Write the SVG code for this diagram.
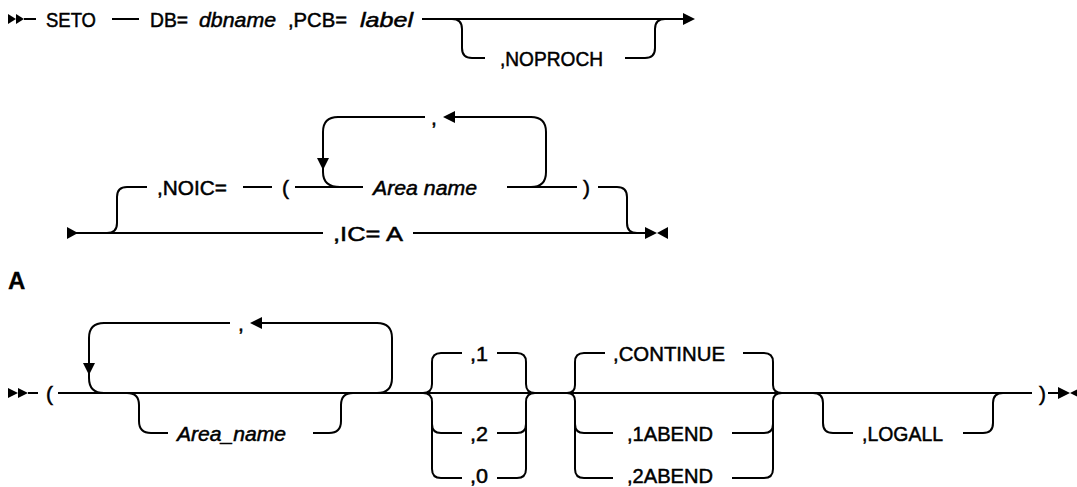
<svg xmlns="http://www.w3.org/2000/svg" width="1077" height="487" viewBox="0 0 1077 487">
<style>
.ln{fill:none;stroke:#000;stroke-width:2}
.ah{fill:#000;stroke:none}
text{font-family:"Liberation Sans",Arial,sans-serif;font-size:21px;fill:#000;stroke:#000;stroke-width:0.5}
.it{font-style:italic}
.bd{font-weight:bold;font-size:24px;stroke-width:0.3}
</style>
<rect width="1077" height="487" fill="#fff"/>
<g id="connectors">
<!-- row 1 -->
<polygon class="ah" points="8,14 16,19 8,24"/>
<polygon class="ah" points="16,14 24,19 16,24"/>
<path class="ln" d="M24,19 H36"/>
<path class="ln" d="M112,19 H139"/>
<path class="ln" d="M422,19 H685"/>
<polygon class="ah" points="683,13 695,19 683,25"/>
<path class="ln" d="M452,19 Q462,19 462,29 V48 Q462,58 472,58 H485"/>
<path class="ln" d="M625,58 H645 Q655,58 655,48 V29 Q655,19 665,19"/>
<!-- row 2 -->
<polygon class="ah" points="67,227 78,233 67,239"/>
<path class="ln" d="M76,233 H323"/>
<path class="ln" d="M413,233 H647"/>
<polygon class="ah" points="645,227 657,233 645,239"/>
<polygon class="ah" points="668,227 657,233 668,239"/>
<path class="ln" d="M107,233 Q117,233 117,223 V197 Q117,187 127,187 H147"/>
<path class="ln" d="M243,187 H272"/>
<path class="ln" d="M295,187 H363"/>
<path class="ln" d="M507,187 H577"/>
<path class="ln" d="M598,187 H617 Q627,187 627,197 V223 Q627,233 637,233"/>
<path class="ln" d="M340,187 Q323,187 323,172 V132 Q323,117 338,117 H425"/>
<path class="ln" d="M453,117 H531 Q546,117 546,132 V172 Q546,187 531,187"/>
<polygon class="ah" points="443,117 455,111 455,123"/>
<polygon class="ah" points="317,158 329,158 323,170"/>
<!-- row 3 -->
<polygon class="ah" points="8,388 18,393 8,398"/>
<polygon class="ah" points="18,388 28,393 18,398"/>
<path class="ln" d="M28,393 H38"/>
<path class="ln" d="M58,393 H1032"/>
<path class="ln" d="M1048,393 H1060"/>
<polygon class="ah" points="1058,387 1070,393 1058,399"/>
<polygon class="ah" points="1082,387 1070,393 1082,399"/>
<path class="ln" d="M104,393 Q89,393 89,378 V338 Q89,323 104,323 H230"/>
<path class="ln" d="M260,323 H377 Q392,323 392,338 V378 Q392,393 377,393"/>
<polygon class="ah" points="250,323 262,317 262,329"/>
<polygon class="ah" points="83,363 95,363 89,375"/>
<path class="ln" d="M127,393 Q139,393 139,405 V421 Q139,433 151,433 H168"/>
<path class="ln" d="M313,433 H329 Q341,433 341,421 V405 Q341,393 353,393"/>
<path class="ln" d="M423,393 Q432,393 432,384 V362 Q432,353 441,353 H462"/>
<path class="ln" d="M497,353 H517 Q526,353 526,362 V384 Q526,393 535,393"/>
<path class="ln" d="M423,393 Q432,393 432,402 V469 Q432,478 441,478 H462"/>
<path class="ln" d="M432,424 Q432,433 441,433 H462"/>
<path class="ln" d="M497,433 H517 Q526,433 526,424"/>
<path class="ln" d="M497,478 H517 Q526,478 526,469 V402 Q526,393 535,393"/>
<path class="ln" d="M567,393 Q575,393 575,385 V362 Q575,353 584,353 H605"/>
<path class="ln" d="M743,353 H764 Q773,353 773,362 V385 Q773,393 782,393"/>
<path class="ln" d="M567,393 Q575,393 575,401 V469 Q575,478 584,478 H613"/>
<path class="ln" d="M575,424 Q575,433 584,433 H613"/>
<path class="ln" d="M732,433 H764 Q773,433 773,424"/>
<path class="ln" d="M732,478 H764 Q773,478 773,469 V401 Q773,393 782,393"/>
<path class="ln" d="M813,393 Q823,393 823,403 V423 Q823,433 833,433 H853"/>
<path class="ln" d="M963,433 H983 Q993,433 993,423 V403 Q993,393 1003,393"/>
</g>
<g id="n-seto"><text x="46" y="26.5" textLength="50" lengthAdjust="spacingAndGlyphs">SETO</text></g>
<g id="n-db"><text x="150" y="26.5" textLength="38" lengthAdjust="spacingAndGlyphs">DB=</text></g>
<g id="n-dbname"><text class="it" x="199" y="26.5" textLength="77" lengthAdjust="spacingAndGlyphs">dbname</text></g>
<g id="n-pcb"><text x="288" y="26.5" textLength="59" lengthAdjust="spacingAndGlyphs">,PCB=</text></g>
<g id="n-label"><text class="it" x="360" y="26.5" textLength="53" lengthAdjust="spacingAndGlyphs">label</text></g>
<g id="n-noproch"><text x="500" y="65.5" textLength="103" lengthAdjust="spacingAndGlyphs">,NOPROCH</text></g>
<g id="n-noic"><text x="157" y="194.5" textLength="70" lengthAdjust="spacingAndGlyphs">,NOIC=</text></g>
<g id="n-lparen1"><text x="282" y="194.5">(</text></g>
<g id="n-comma1"><text x="431" y="124.5">,</text></g>
<g id="n-areaname"><text class="it" x="373" y="194.5" textLength="104" lengthAdjust="spacingAndGlyphs">Area name</text></g>
<g id="n-rparen1"><text x="583" y="194.5">)</text></g>
<g id="n-ic"><text x="333" y="240.5" textLength="70" lengthAdjust="spacingAndGlyphs">,IC= A</text></g>
<g id="n-A"><text class="bd" x="8" y="289">A</text></g>
<g id="n-lparen2"><text x="46" y="400.5">(</text></g>
<g id="n-comma2"><text x="238" y="330.5">,</text></g>
<g id="n-area_name"><text class="it" x="177" y="440.5" textLength="109" lengthAdjust="spacingAndGlyphs">Area_name</text></g>
<g id="n-1"><text x="470" y="360.5" textLength="18" lengthAdjust="spacingAndGlyphs">,1</text></g>
<g id="n-2"><text x="470" y="440.5" textLength="18" lengthAdjust="spacingAndGlyphs">,2</text></g>
<g id="n-0"><text x="470" y="483" textLength="18" lengthAdjust="spacingAndGlyphs">,0</text></g>
<g id="n-continue"><text x="613" y="360.5" textLength="112" lengthAdjust="spacingAndGlyphs">,CONTINUE</text></g>
<g id="n-1abend"><text x="627" y="440.5" textLength="86" lengthAdjust="spacingAndGlyphs">,1ABEND</text></g>
<g id="n-2abend"><text x="627" y="483" textLength="86" lengthAdjust="spacingAndGlyphs">,2ABEND</text></g>
<g id="n-logall"><text x="862" y="440.5" textLength="81" lengthAdjust="spacingAndGlyphs">,LOGALL</text></g>
<g id="n-rparen2"><text x="1039" y="400.5">)</text></g>
</svg>
